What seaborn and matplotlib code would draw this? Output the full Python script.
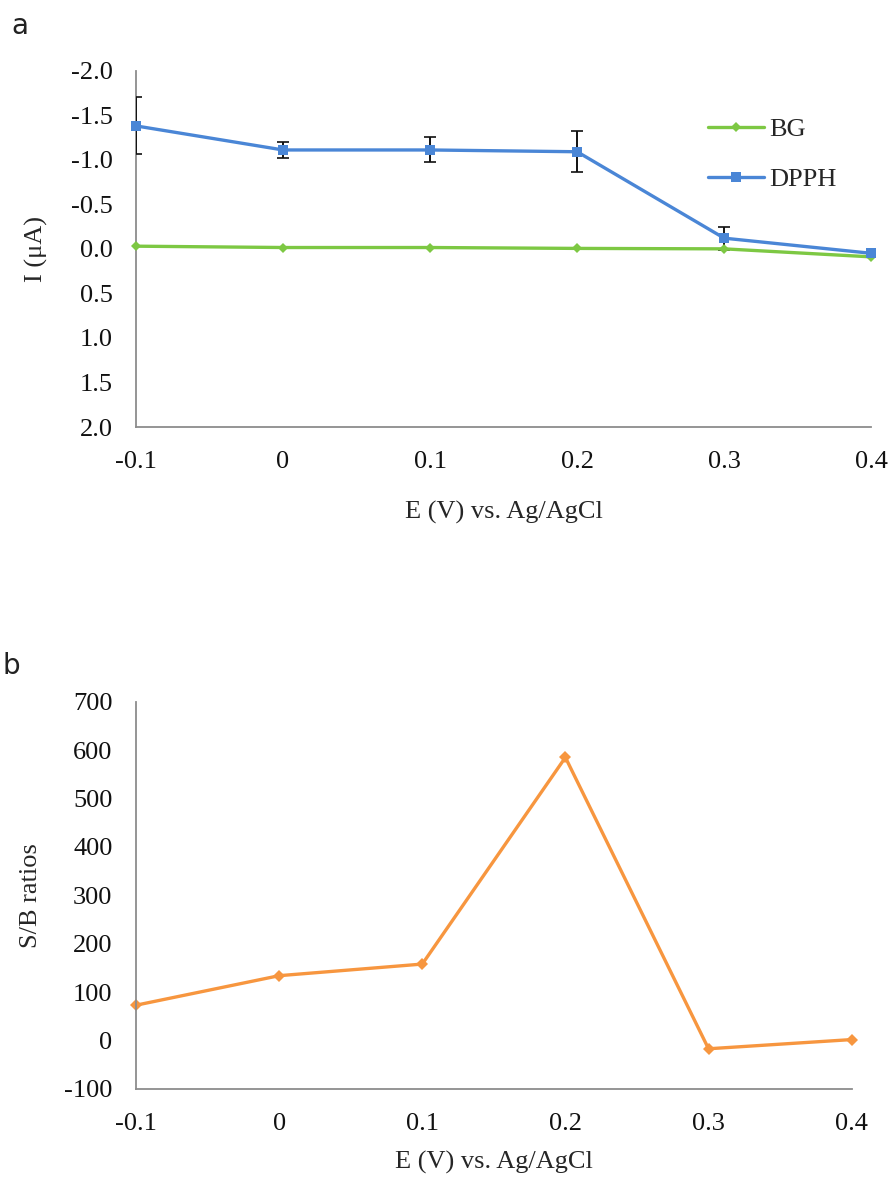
import numpy as np
import pandas as pd
import matplotlib
matplotlib.use("Agg")
import matplotlib.pyplot as plt
import seaborn as sns

# ---- data ----
potential = [-0.1, 0.0, 0.1, 0.2, 0.3, 0.4]
x_ticklabels = ["-0.1", "0", "0.1", "0.2", "0.3", "0.4"]
bg_current = [-0.03, -0.015, -0.015, -0.005, 0.0, 0.09]
dpph_current = [-1.38, -1.11, -1.11, -1.09, -0.12, 0.05]
dpph_err = [0.32, 0.09, 0.14, 0.23, 0.13, 0.0]
sb_ratio = [73, 134, 158, 585, -17, 2]

top_yticks = [-2.0, -1.5, -1.0, -0.5, 0.0, 0.5, 1.0, 1.5, 2.0]
bot_yticks = [-100, 0, 100, 200, 300, 400, 500, 600, 700]

GREEN = "#7DC843"
BLUE = "#4A86D6"
ORANGE = "#F7963F"
AXC = "#8C8C8C"

sns.set_theme(style="white")
plt.rcParams["font.family"] = ["Liberation Serif", "DejaVu Serif"]
plt.rcParams["mathtext.fontset"] = "stix"

fig = plt.figure(figsize=(8.89, 11.78), dpi=100)
ax1 = fig.add_axes([0.153, 0.6375, 0.827, 0.3025])
ax2 = fig.add_axes([0.153, 0.0756, 0.805, 0.3287])

FS = 19

def style_axes(ax):
    sns.despine(ax=ax)
    for s in ("left", "bottom"):
        ax.spines[s].set_color(AXC)
        ax.spines[s].set_linewidth(1.3)
    ax.tick_params(direction="in", length=7, width=1.2, color=AXC,
                   labelsize=FS, labelcolor="#111111")
    ax.tick_params(axis="y", pad=17)
    ax.tick_params(axis="x", pad=17)
    ax.set_xticks(potential)
    ax.set_xticklabels(x_ticklabels)
    ax.set_xlim(-0.1, 0.4)

df_top = pd.DataFrame({
    "E": potential * 2,
    "I": bg_current + dpph_current,
    "series": ["BG"] * 6 + ["DPPH"] * 6,
})

ax1.errorbar(potential, dpph_current, yerr=dpph_err, fmt="none",
             ecolor="#111111", elinewidth=1.4, capsize=4.5, capthick=1.2,
             zorder=2.8, clip_on=True)
sns.lineplot(data=df_top[df_top.series == "BG"], x="E", y="I", ax=ax1,
             color=GREEN, lw=2.4, marker="D", markersize=5,
             markeredgewidth=0, label="BG", clip_on=False, zorder=3)
sns.lineplot(data=df_top[df_top.series == "DPPH"], x="E", y="I", ax=ax1,
             color=BLUE, lw=2.4, marker="s", markersize=7.5,
             markeredgewidth=0, label="DPPH", clip_on=False, zorder=4)

style_axes(ax1)
ax1.set_ylim(2.0, -2.0)
ax1.set_yticks(top_yticks)
ax1.set_yticklabels([f"{v:.1f}" for v in top_yticks])
ax1.set_xlabel("E (V) vs. Ag/AgCl", fontsize=FS, labelpad=20)
ax1.set_ylabel("I (μA)", fontsize=FS, labelpad=16)
leg = ax1.legend(loc="upper right", bbox_to_anchor=(0.985, 0.935), frameon=False,
                 fontsize=FS, labelspacing=1.0, handlelength=2.1,
                 handletextpad=0.2)

df_bot = pd.DataFrame({"E": potential, "SB": sb_ratio})
sns.lineplot(data=df_bot, x="E", y="SB", ax=ax2, color=ORANGE, lw=2.4,
             marker="D", markersize=6.5, markeredgewidth=0, clip_on=False)
style_axes(ax2)
ax2.set_ylim(-100, 700)
ax2.set_yticks(bot_yticks)
ax2.set_yticklabels([str(v) for v in bot_yticks])
ax2.set_xlabel("E (V) vs. Ag/AgCl", fontsize=FS, labelpad=12)
ax2.set_ylabel("S/B ratios", fontsize=FS, labelpad=16)

fig.text(0.013, 0.978, "a", fontsize=20, family=["DejaVu Sans"],
         color="#222222", va="center")
fig.text(0.003, 0.435, "b", fontsize=20, family=["DejaVu Sans"],
         color="#222222", va="center")

fig.savefig("out.png", dpi=100, facecolor="white")
